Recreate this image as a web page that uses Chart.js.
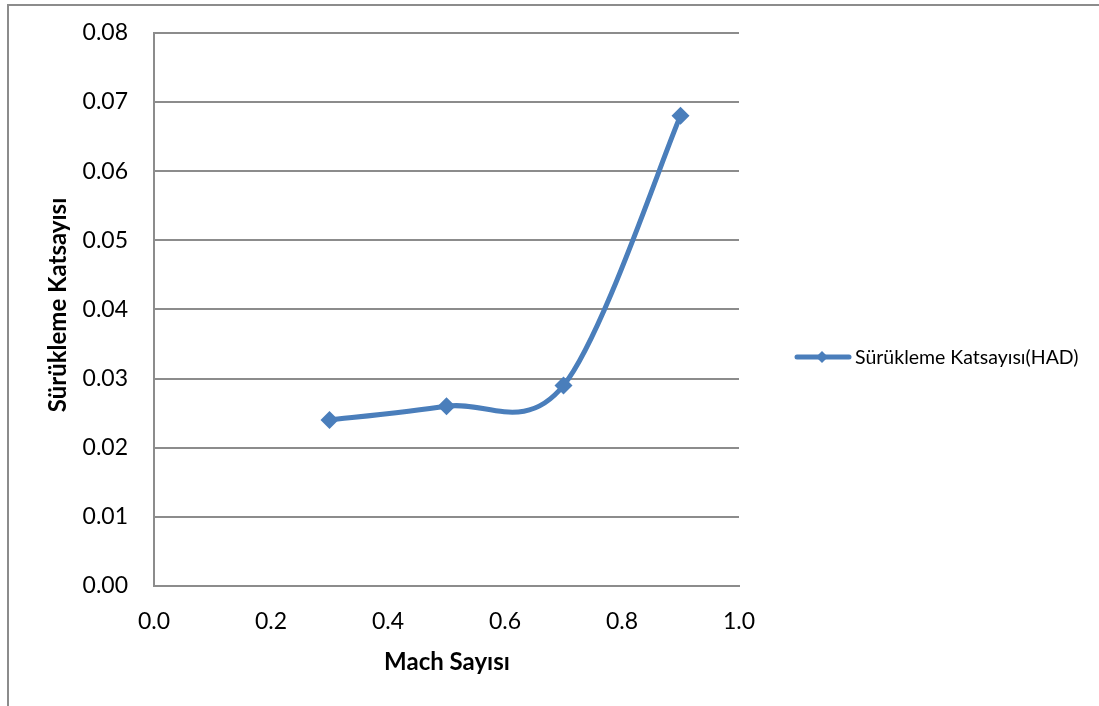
<!DOCTYPE html>
<html>
<head>
<meta charset="utf-8">
<script src="https://cdn.jsdelivr.net/npm/chart.js@4/dist/chart.umd.min.js"></script>
<style>
  html, body { margin: 0; padding: 0; background: #fff; }
  #wrap { position: relative; width: 1099px; height: 706px; overflow: hidden; }
  #frame { position: absolute; left: 7px; top: 4px; width: 1100px; height: 710px;
           border-left: 2px solid #8c8c8c; border-top: 2px solid #8c8c8c; }
  canvas { position: absolute; left: 0; top: -7px; }
</style>
</head>
<body>
<div id="wrap">
  <div id="frame"></div>
  <canvas id="dragChart" width="1099" height="713"></canvas>
</div>
<script>
// Sürükleme katsayısı vs Mach sayısı (HAD sonuçları)
const machValues = [0.3, 0.5, 0.7, 0.9];
const dragValues = [0.024, 0.026, 0.029, 0.068];
const seriesName = 'Sürükleme Katsayısı(HAD)';
const xTitle = 'Mach Sayısı';
const yTitle = 'Sürükleme Katsayısı';

const BLUE = '#4A7EBB';
const GRID = '#8c8c8c';
const FONT = 'Lato';

// spreadsheet-style smoothing: Catmull-Rom tangents (1/6 of the neighbour span)
const smoothLine = {
  id: 'smoothLine',
  beforeDatasetDraw(chart, args) {
    const line = args.meta.dataset;
    const pts = args.meta.data;
    if (!line || pts.length < 2) return;
    if (line.updateControlPoints) line.updateControlPoints(chart.chartArea, 'x');
    const n = pts.length;
    for (let i = 0; i < n; i++) {
      const prev = pts[Math.max(i - 1, 0)];
      const next = pts[Math.min(i + 1, n - 1)];
      const dx = (next.x - prev.x) / 6;
      const dy = (next.y - prev.y) / 6;
      pts[i].cp1x = pts[i].x - dx;
      pts[i].cp1y = pts[i].y - dy;
      pts[i].cp2x = pts[i].x + dx;
      pts[i].cp2y = pts[i].y + dy;
    }
    line._pointsUpdated = true;
    delete line._path;
  }
};

// axis titles and the legend on the right, placed by hand like the spreadsheet layout
const decorations = {
  id: 'decorations',
  afterDraw(chart) {
    const ctx = chart.ctx;
    ctx.save();
    ctx.fillStyle = '#000';
    ctx.font = 'bold 24px ' + FONT;
    ctx.textAlign = 'center';
    ctx.textBaseline = 'middle';
    ctx.fillText(xTitle, 447, 669);

    ctx.translate(58, 312);
    ctx.rotate(-Math.PI / 2);
    ctx.fillText(yTitle, 0, 0);
    ctx.restore();

    // legend
    ctx.save();
    ctx.strokeStyle = BLUE;
    ctx.lineWidth = 5;
    ctx.lineCap = 'round';
    ctx.beginPath();
    ctx.moveTo(797, 364);
    ctx.lineTo(849, 364);
    ctx.stroke();
    ctx.fillStyle = BLUE;
    ctx.beginPath();
    ctx.moveTo(822, 358);
    ctx.lineTo(828, 364);
    ctx.lineTo(822, 370);
    ctx.lineTo(816, 364);
    ctx.closePath();
    ctx.fill();
    ctx.fillStyle = '#000';
    ctx.font = '19.5px ' + FONT;
    ctx.textAlign = 'left';
    ctx.textBaseline = 'middle';
    ctx.fillText(seriesName, 855, 365);
    ctx.restore();
  }
};

new Chart(document.getElementById('dragChart'), {
  type: 'scatter',
  data: {
    datasets: [{
      label: seriesName,
      data: machValues.map((m, i) => ({ x: m, y: dragValues[i] })),
      showLine: true,
      tension: 0.4,
      borderColor: BLUE,
      borderWidth: 5,
      backgroundColor: BLUE,
      pointStyle: 'rectRot',
      pointRadius: 9,
      pointHoverRadius: 9,
      pointBorderWidth: 0,
    }],
  },
  options: {
    responsive: false,
    animation: false,
    layout: { padding: { left: 0, top: 33, right: 360, bottom: 0 } },
    plugins: { legend: { display: false }, tooltip: { enabled: false } },
    scales: {
      x: {
        type: 'linear',
        min: 0,
        max: 1,
        afterFit(scale) { scale.height = 120; },
        grid: { display: false, drawTicks: false },
        border: { display: true, color: GRID, width: 2 },
        ticks: {
          stepSize: 0.2,
          padding: 22,
          color: '#000',
          font: { family: FONT, size: 23 },
          callback: (v) => v.toFixed(1),
        },
      },
      y: {
        min: 0,
        max: 0.08,
        afterFit(scale) { scale.width = 154; },
        grid: { color: GRID, lineWidth: 2, drawTicks: false },
        border: { display: true, color: GRID, width: 2 },
        ticks: {
          stepSize: 0.01,
          padding: 26,
          color: '#000',
          font: { family: FONT, size: 23 },
          callback: (v) => v.toFixed(2),
        },
      },
    },
  },
  plugins: [smoothLine, decorations],
});
</script>
</body>
</html>
